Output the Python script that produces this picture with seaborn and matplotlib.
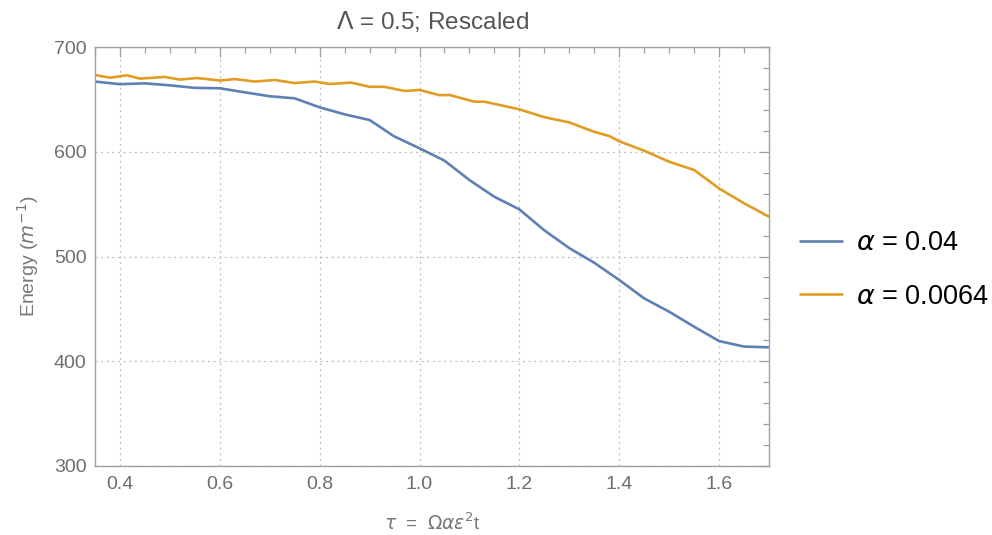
import numpy as np
import pandas as pd
import matplotlib
matplotlib.use("Agg")
import matplotlib.pyplot as plt
import seaborn as sns
from matplotlib.ticker import MultipleLocator
from matplotlib.lines import Line2D

# ---- data ----
tau_a = [0.35, 0.40, 0.45, 0.50, 0.55, 0.60, 0.65, 0.70, 0.75, 0.80, 0.85, 0.90,
         0.92, 0.948, 1.00, 1.05, 1.10, 1.15, 1.20, 1.25, 1.30, 1.35, 1.40, 1.45,
         1.50, 1.55, 1.60, 1.65, 1.70]
energy_a = [667, 664.5, 665.3, 663.4, 661, 660.6, 656.7, 653, 651, 642.4, 635.7, 630.3,
            624, 615, 603.3, 591.5, 573, 557, 545, 525, 508, 494, 477.6, 460,
            447.3, 433, 419.3, 414, 413.3]

tau_b = [0.35, 0.38, 0.414, 0.44, 0.49, 0.52, 0.554, 0.60, 0.63, 0.67, 0.71, 0.75,
         0.79, 0.82, 0.863, 0.90, 0.93, 0.97, 1.00, 1.04, 1.06, 1.11, 1.13, 1.20,
         1.25, 1.30, 1.35, 1.38, 1.40, 1.45, 1.50, 1.55, 1.60, 1.65, 1.70]
energy_b = [673.3, 670.7, 673, 669.8, 671.4, 668.9, 670.4, 668, 669.4, 667, 668.5, 665.6,
            667, 664.7, 666, 662, 662, 658, 659, 654, 654.2, 647.8, 647.8, 640.5,
            633, 628, 619, 615, 610, 601, 590.5, 582.6, 565, 550.8, 538]

labels = [r"$\alpha$ = 0.04", r"$\alpha$ = 0.0064"]
colors = ["#5E81B5", "#E19C24"]

x_ticks = [0.4, 0.6, 0.8, 1.0, 1.2, 1.4, 1.6]
y_ticks = [300, 400, 500, 600, 700]

df = pd.concat([
    pd.DataFrame({"tau": tau_a, "E": energy_a, "series": labels[0]}),
    pd.DataFrame({"tau": tau_b, "E": energy_b, "series": labels[1]}),
])

sns.set_theme(style="white")
plt.rcParams["font.family"] = ["Liberation Sans", "DejaVu Sans"]
plt.rcParams["mathtext.fontset"] = "dejavusans"

fig = plt.figure(figsize=(9.92, 5.35), dpi=100)
ax = fig.add_axes([95/992, 1 - 466/535, (769-95)/992, (466-47)/535])

sns.lineplot(data=df, x="tau", y="E", hue="series", palette=colors,
             hue_order=labels, ax=ax, linewidth=1.9, sort=False, legend=False,
             estimator=None)

ax.set_xlim(0.35, 1.7)
ax.set_ylim(300, 700)
ax.set_xticks(x_ticks)
ax.set_xticklabels([f"{v:.1f}" for v in x_ticks])
ax.set_yticks(y_ticks)
ax.set_yticklabels([str(v) for v in y_ticks])
ax.xaxis.set_minor_locator(MultipleLocator(0.05))
ax.yaxis.set_minor_locator(MultipleLocator(20))

frame_col = "#A0A0A0"
tick_col = "#6E6E6E"
for s in ax.spines.values():
    s.set_color(frame_col)
    s.set_linewidth(1.0)
ax.tick_params(which="both", direction="in", top=True, right=True,
               color=frame_col, width=0.9)
ax.tick_params(which="major", length=7, labelsize=14, labelcolor=tick_col)
ax.tick_params(axis="x", which="major", pad=7)
ax.tick_params(axis="y", which="major", pad=6)
ax.tick_params(which="minor", length=4)

ax.grid(True, which="major", linestyle=(0, (1.5, 3)), color="#BBBBBB", linewidth=0.9)

ax.set_title(r"$\Lambda$ = 0.5; Rescaled", color="#555555", fontsize=17.5, pad=13)
ax.set_xlabel(r"$\tau$  =  $\Omega\alpha\epsilon^2$t", color="#777777", fontsize=13.5, labelpad=14)
ax.set_ylabel(r"Energy ($m^{-1}$)", color="#777777", fontsize=14, labelpad=9)

handles = [Line2D([0], [0], color=c, lw=1.9) for c in colors]
leg = fig.legend(handles, labels, loc="center left", bbox_to_anchor=(800/992, 1 - 270/535),
                 frameon=False, fontsize=19.5, handlelength=1.55, handletextpad=0.5,
                 labelspacing=1.0, borderaxespad=0, borderpad=0)
for t in leg.get_texts():
    t.set_color("#000000")

fig.savefig("out.png", dpi=100)
